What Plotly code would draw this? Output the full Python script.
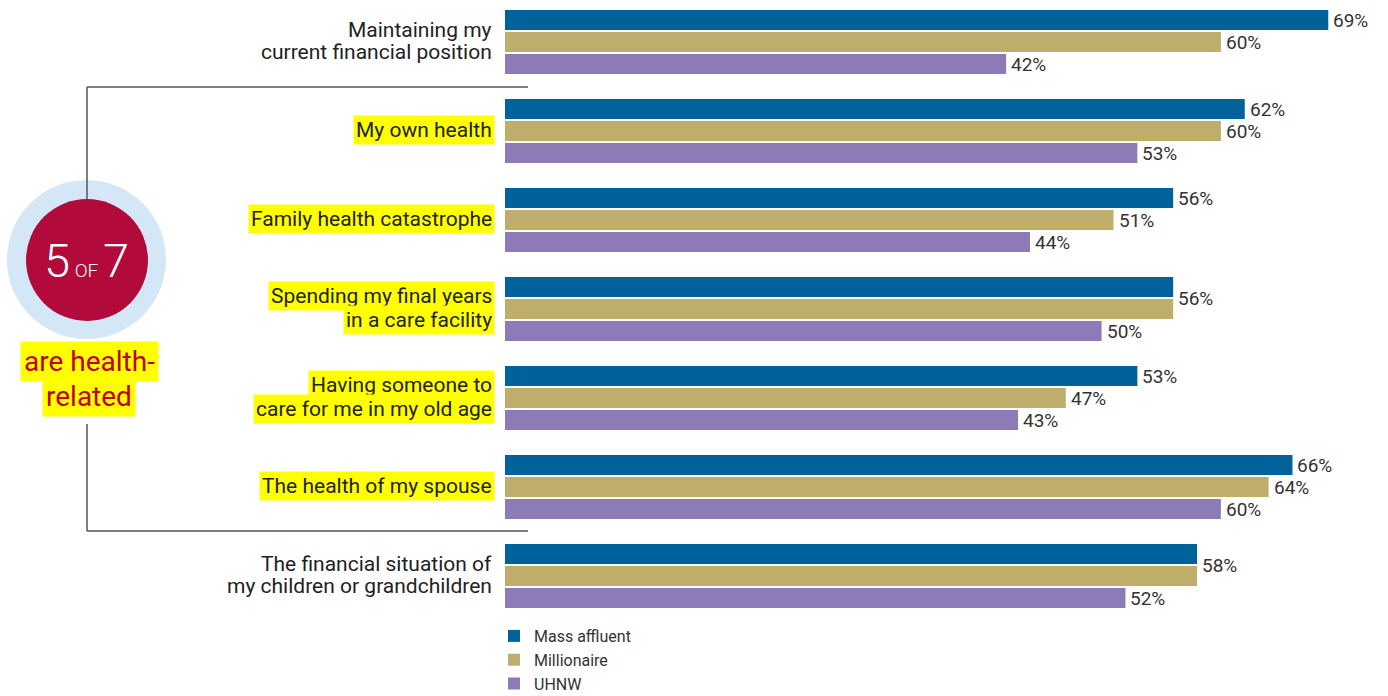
import plotly.graph_objects as go

# ---- data ----
categories = [
    "Maintaining my<br>current financial position",
    "My own health",
    "Family health catastrophe",
    "Spending my final years<br>in a care facility",
    "Having someone to<br>care for me in my old age",
    "The health of my spouse",
    "The financial situation of<br>my children or grandchildren",
]
health_related = [False, True, True, True, True, True, False]
mass_affluent = [69, 62, 56, 56, 53, 66, 58]
millionaire = [60, 60, 51, 56, 47, 64, 58]
uhnw = [42, 53, 44, 50, 43, 60, 52]
series_names = ["Mass affluent", "Millionaire", "UHNW"]
series_colors = ["#00629b", "#bfad6b", "#8d7bb8"]

FONT = "Roboto"
W, H = 1388, 696
ML, MR, MT, MB = 505, 12, 0, 76
PW, PH = W - ML - MR, H - MT - MB


def px(x):
    return (x - ML) / PW


def py(y):
    return 1 - (y - MT) / PH


fig = go.Figure()
for name, vals, col in zip(series_names, [mass_affluent, millionaire, uhnw], series_colors):
    fig.add_trace(go.Bar(
        y=categories, x=vals, name=name, orientation="h",
        marker=dict(color=col, line=dict(width=0)),
        hoverinfo="x+name",
    ))

annotations = []

# value labels at the bar ends (a shared label when the two top bars are equal)
for i, cat in enumerate(categories):
    vals = [mass_affluent[i], millionaire[i], uhnw[i]]
    shifts = [22, 0, -22]
    items = []
    if vals[0] == vals[1]:
        items.append((vals[0], 11))
    else:
        items.append((vals[0], shifts[0]))
        items.append((vals[1], shifts[1]))
    items.append((vals[2], shifts[2]))
    for v, s in items:
        annotations.append(dict(
            x=v, y=cat, xref="x", yref="y", text=f"{v}%", showarrow=False,
            xanchor="left", yanchor="middle", xshift=3, yshift=s,
            font=dict(family=FONT, size=19, color="#333333"),
        ))

# category labels, highlighted line by line when health related
for i, cat in enumerate(categories):
    lines = cat.split("<br>")
    n = len(lines)
    pitch = 24 if health_related[i] else 22
    for k, line in enumerate(lines):
        ys = ((n - 1) / 2 - k) * pitch + 1.5
        annotations.append(dict(
            x=0, y=cat, xref="paper", yref="y", text=line, showarrow=False,
            xanchor="right", yanchor="middle", xshift=-10, yshift=ys,
            font=dict(family=FONT, size=21, color="#222222"),
            bgcolor="#ffff00" if health_related[i] else "rgba(0,0,0,0)",
            borderpad=2,
        ))

# circle badge text
annotations.append(dict(
    x=px(86), y=py(261), xref="paper", yref="paper",
    text="5<span style='font-size:19px'> OF </span>7", showarrow=False,
    xanchor="center", yanchor="middle",
    font=dict(family=FONT, size=47, color="white", weight=300),
))
for txt, cy in [("are health-", 361), ("related", 396)]:
    annotations.append(dict(
        x=px(89), y=py(cy), xref="paper", yref="paper", text=txt, showarrow=False,
        xanchor="center", yanchor="middle",
        font=dict(family=FONT, size=28, color="#c0001a"),
        bgcolor="#ffff00", borderpad=3,
    ))

line_style = dict(color="#555555", width=1.5)
shapes = [
    dict(type="circle", xref="paper", yref="paper",
         x0=px(7), x1=px(166), y0=py(180), y1=py(339),
         fillcolor="#d3e7f6", line=dict(width=0), layer="above"),
    dict(type="line", xref="paper", yref="paper",
         x0=px(87), x1=px(87), y0=py(87), y1=py(205), line=line_style, layer="above"),
    dict(type="circle", xref="paper", yref="paper",
         x0=px(26), x1=px(148), y0=py(199), y1=py(321),
         fillcolor="#b20a3a", line=dict(width=0), layer="above"),
    dict(type="line", xref="paper", yref="paper",
         x0=px(87), x1=px(528), y0=py(87), y1=py(87), line=line_style),
    dict(type="line", xref="paper", yref="paper",
         x0=px(87), x1=px(87), y0=py(424), y1=py(531), line=line_style),
    dict(type="line", xref="paper", yref="paper",
         x0=px(87), x1=px(528), y0=py(531), y1=py(531), line=line_style),
]

fig.update_layout(
    width=W, height=H,
    margin=dict(l=ML, r=MR, t=MT, b=MB, pad=0, autoexpand=False),
    paper_bgcolor="white", plot_bgcolor="white",
    barmode="group", bargap=0.258, bargroupgap=0.091,
    xaxis=dict(range=[0, 73], visible=False, fixedrange=True),
    yaxis=dict(range=[6.494, -0.472], showticklabels=False, showgrid=False,
               zeroline=False, showline=False, ticks="", fixedrange=True),
    showlegend=True,
    legend=dict(
        orientation="v", xref="paper", x=px(494), xanchor="left",
        yref="container", y=1 - 619 / H, yanchor="top",
        font=dict(family=FONT, size=16, color="#333333"),
        itemsizing="constant", tracegroupgap=0, bgcolor="rgba(0,0,0,0)",
    ),
    annotations=annotations,
    shapes=shapes,
    font=dict(family=FONT),
)

fig.write_html("out.html")
